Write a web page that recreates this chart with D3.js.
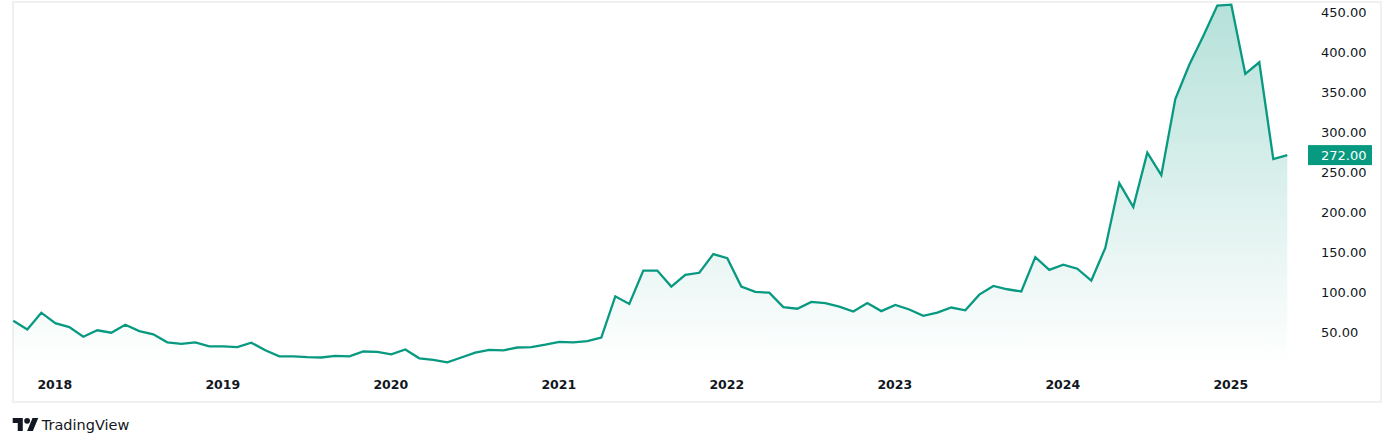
<!DOCTYPE html>
<html>
<head>
<meta charset="utf-8">
<script src="https://cdn.jsdelivr.net/npm/d3@7"></script>
<style>
  html, body { margin: 0; padding: 0; background: #ffffff; }
  svg { display: block; }
</style>
</head>
<body>
<svg id="chart" width="1394" height="446"></svg>
<script>
// ---- data (monthly closes, Oct 2017 .. May 2025) ----
const startMonth = "2017-10";
const values = [
  65, 54, 75, 62, 57, 45, 53, 50, 60, 52, 48, 38,
  36, 38, 33, 33, 32, 37.5, 28, 20.5, 20.5, 19.5, 19, 21,
  20.5, 26.5, 26, 23, 29, 18, 16, 13, 19, 25, 28.5, 28,
  31.5, 32, 35, 38.5, 38, 39.5, 44, 95.5, 86, 127.7, 127.7, 107.7,
  122.4, 124.9, 148.2, 143.2, 107.7, 101, 100, 82, 80, 88.5, 87, 82.6,
  76.5, 87, 77, 84.7, 79, 71, 75, 81.5, 78, 97.6, 108.5, 104.3,
  101.5, 144.4, 128.6, 135, 130, 115.2, 156, 237, 207, 275, 247, 342,
  385, 421, 459, 460, 373.5, 388, 267, 272
];
const priceTicks = [50, 100, 150, 200, 250, 300, 350, 400, 450];
const yearLabels = ["2018", "2019", "2020", "2021", "2022", "2023", "2024", "2025"];
const lastPriceLabel = "272.00";
const brand = "TradingView";

// categories: one per month
const parseMonth = d3.timeParse("%Y-%m");
const months = d3.timeMonth.range(parseMonth(startMonth), d3.timeMonth.offset(parseMonth(startMonth), values.length));
const data = values.map((v, i) => ({ i, date: months[i], value: v }));

const svg = d3.select("#chart");
const GREEN = "#089981";
const plotTop = 2, plotBottom = 364;

const x = d3.scaleLinear().domain([0, values.length - 1]).range([13.3, 1287.3]);
const y = d3.scaleLinear().domain([50, 450]).range([332.7, 12.7]);

// frame
svg.append("rect")
  .attr("x", 13).attr("y", 2).attr("width", 1368).attr("height", 400)
  .attr("fill", "none").attr("stroke", "#f0f0f0").attr("stroke-width", 2);

// gradient
const defs = svg.append("defs");
const grad = defs.append("linearGradient")
  .attr("id", "areaGrad").attr("gradientUnits", "userSpaceOnUse")
  .attr("x1", 0).attr("x2", 0).attr("y1", plotTop).attr("y2", plotBottom);
grad.append("stop").attr("offset", "0%").attr("stop-color", GREEN).attr("stop-opacity", 0.3);
grad.append("stop").attr("offset", "100%").attr("stop-color", GREEN).attr("stop-opacity", 0.0);

const area = d3.area()
  .x(d => x(d.i)).y0(plotBottom).y1(d => y(d.value));
svg.append("path").datum(data)
  .attr("d", area).attr("fill", "url(#areaGrad)");

const line = d3.line().x(d => x(d.i)).y(d => y(d.value));
svg.append("path").datum(data)
  .attr("d", line).attr("fill", "none")
  .attr("stroke", GREEN).attr("stroke-width", 2.3)
  .attr("stroke-linejoin", "miter");

// price axis (labels only)
const yAxis = d3.axisRight(y).tickValues(priceTicks)
  .tickFormat(d3.format(".2f")).tickSize(0).tickPadding(0);
const yg = svg.append("g").attr("transform", "translate(1321,0)").call(yAxis);
yg.select(".domain").remove();
yg.selectAll("text")
  .attr("font-family", "DejaVu Sans, sans-serif").attr("font-size", 13)
  .attr("fill", "#131722").attr("text-anchor", "start").attr("x", 0);

// last price label
const lastVal = +lastPriceLabel;
svg.append("rect")
  .attr("x", 1308).attr("y", y(lastVal) - 10).attr("width", 64).attr("height", 20)
  .attr("fill", GREEN);
svg.append("text")
  .attr("x", 1321).attr("y", y(lastVal)).attr("dy", "0.35em")
  .attr("font-family", "DejaVu Sans, sans-serif").attr("font-size", 13)
  .attr("fill", "#ffffff").text(lastPriceLabel);

// time axis: year labels at January of each year
const janIdx = yearLabels.map(yl => data.findIndex(d => d.date.getFullYear() === +yl && d.date.getMonth() === 0));
const xAxis = d3.axisBottom(x).tickValues(janIdx)
  .tickFormat((d, k) => yearLabels[k]).tickSize(0).tickPadding(0);
const xg = svg.append("g").attr("transform", "translate(-1,384.5)").call(xAxis);
xg.select(".domain").remove();
xg.selectAll("text")
  .attr("font-family", "DejaVu Sans, sans-serif").attr("font-size", 12.5)
  .attr("font-weight", "bold").attr("fill", "#131722")
  .attr("y", 0).attr("dy", "0.35em");

// brand
const logo = svg.append("g").attr("transform", "translate(12.7,415.1) scale(0.72)").attr("fill", "#131722");
logo.append("path").attr("d", "M14 22H7V11H0V4h14v18zM28 22h-8l7.5-18h8L28 22z");
logo.append("circle").attr("cx", 20).attr("cy", 8).attr("r", 4);
svg.append("text")
  .attr("x", 41.7).attr("y", 424.7).attr("dy", "0.35em")
  .attr("font-family", "DejaVu Sans, sans-serif").attr("font-size", 14.5)
  .attr("fill", "#131722").text(brand);
</script>
</body>
</html>
